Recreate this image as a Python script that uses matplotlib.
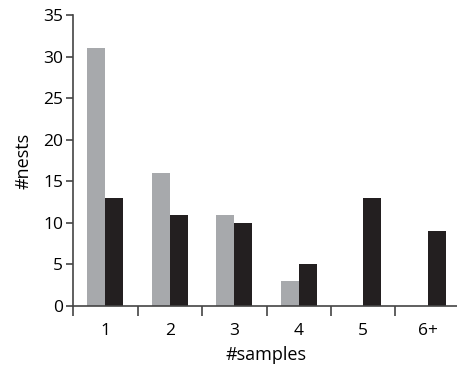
import matplotlib
matplotlib.use('Agg')
import matplotlib.pyplot as plt
import numpy as np

categories = ['1', '2', '3', '4', '5', '6+']
gray_values = [31, 16, 11, 3, 0, 0]
black_values = [13, 11, 10, 5, 13, 9]

plt.rcParams['font.family'] = ['Open Sans', 'DejaVu Sans']

fig = plt.figure(figsize=(4.57, 3.67), dpi=100)
ax = fig.add_axes([73 / 457, 1 - 306 / 367, 387 / 457, 291 / 367])

x = np.arange(len(categories))
w = 0.28
ax.bar(x - w / 2, gray_values, w, color='#a7a9ac')
ax.bar(x + w / 2, black_values, w, color='#231f20')

ax.set_xlim(-0.5, 5.5)
ax.set_ylim(0, 35)
ax.set_yticks(range(0, 36, 5))
ax.set_xticks(x)
ax.set_xticklabels(categories)
ax.set_xticks(np.arange(-0.5, 5.6, 1), minor=True)
ax.tick_params(axis='x', which='major', length=0, pad=12, labelsize=12.5)
ax.tick_params(axis='x', which='minor', length=7, width=1.2, color='#444444')
ax.tick_params(axis='y', length=5, width=1.2, color='#444444', labelsize=12.5, pad=2)

for s in ['top', 'right']:
    ax.spines[s].set_visible(False)
for s in ['left', 'bottom']:
    ax.spines[s].set_color('#444444')
    ax.spines[s].set_linewidth(1.2)

ax.set_xlabel('#samples', fontsize=13, labelpad=5)
ax.set_ylabel('#nests', fontsize=13, labelpad=8)

fig.savefig('out.png', dpi=100)
